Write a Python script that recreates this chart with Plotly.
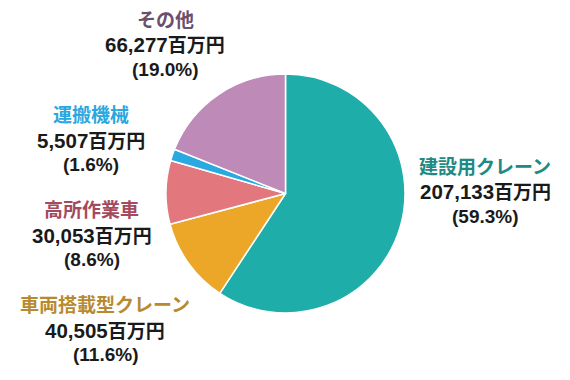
import re
import plotly.graph_objects as go

categories = ["建設用クレーン", "車両搭載型クレーン", "高所作業車", "運搬機械", "その他"]
values = [207133, 40505, 30053, 5507, 66277]
value_labels = ["207,133百万円", "40,505百万円", "30,053百万円", "5,507百万円", "66,277百万円"]
pct_labels = ["(59.3%)", "(11.6%)", "(8.6%)", "(1.6%)", "(19.0%)"]

slice_colors = ["#1FADA9", "#ECA628", "#E2777D", "#28A9E0", "#BE8AB8"]
label_colors = ["#1E8A83", "#B88A30", "#A54A5C", "#2AA7DF", "#6B4F6E"]

W, H = 570, 380
OFF = 8  # page body margin offset
# centre of each label block (value line) in reference pixels
label_pos = [(485, 192), (105, 330), (92, 235), (91, 140), (165, 45)]
LINE = 24.5

FONT = "Liberation Sans, Arial, Noto Sans CJK JP"

fig = go.Figure(go.Pie(
    labels=categories,
    values=values,
    sort=False,
    direction="clockwise",
    rotation=0,
    marker=dict(colors=slice_colors, line=dict(color="white", width=1.5)),
    textinfo="none",
    hoverinfo="none",
    showlegend=False,
    domain=dict(x=[(165 - OFF) / W, (406 - OFF) / W],
                y=[1 - (313 - OFF) / H, 1 - (74 - OFF) / H]),
))


def add_line(text, x, y, color, size=19):
    fig.add_annotation(
        x=(x - OFF) / W, y=1 - (y - OFF) / H, xref="paper", yref="paper",
        xanchor="center", yanchor="middle",
        text=f"<b>{text}</b>", showarrow=False, align="center",
        font=dict(family=FONT, size=size, color=color),
    )


for cat, vl, pl, col, (x, y) in zip(categories, value_labels, pct_labels, label_colors, label_pos):
    add_line(cat, x, y - LINE, col)
    m = re.match(r"([\d,]+)(.*)", vl)
    add_line(f"<span style='font-size:20.5px'>{m.group(1)}</span>{m.group(2)}", x, y, "#1a1a1a")
    add_line(pl, x, y + LINE, "#1a1a1a")

fig.update_layout(
    width=W, height=H,
    margin=dict(l=0, r=0, t=0, b=0),
    paper_bgcolor="white",
    plot_bgcolor="white",
)

fig.write_html("out.html")
